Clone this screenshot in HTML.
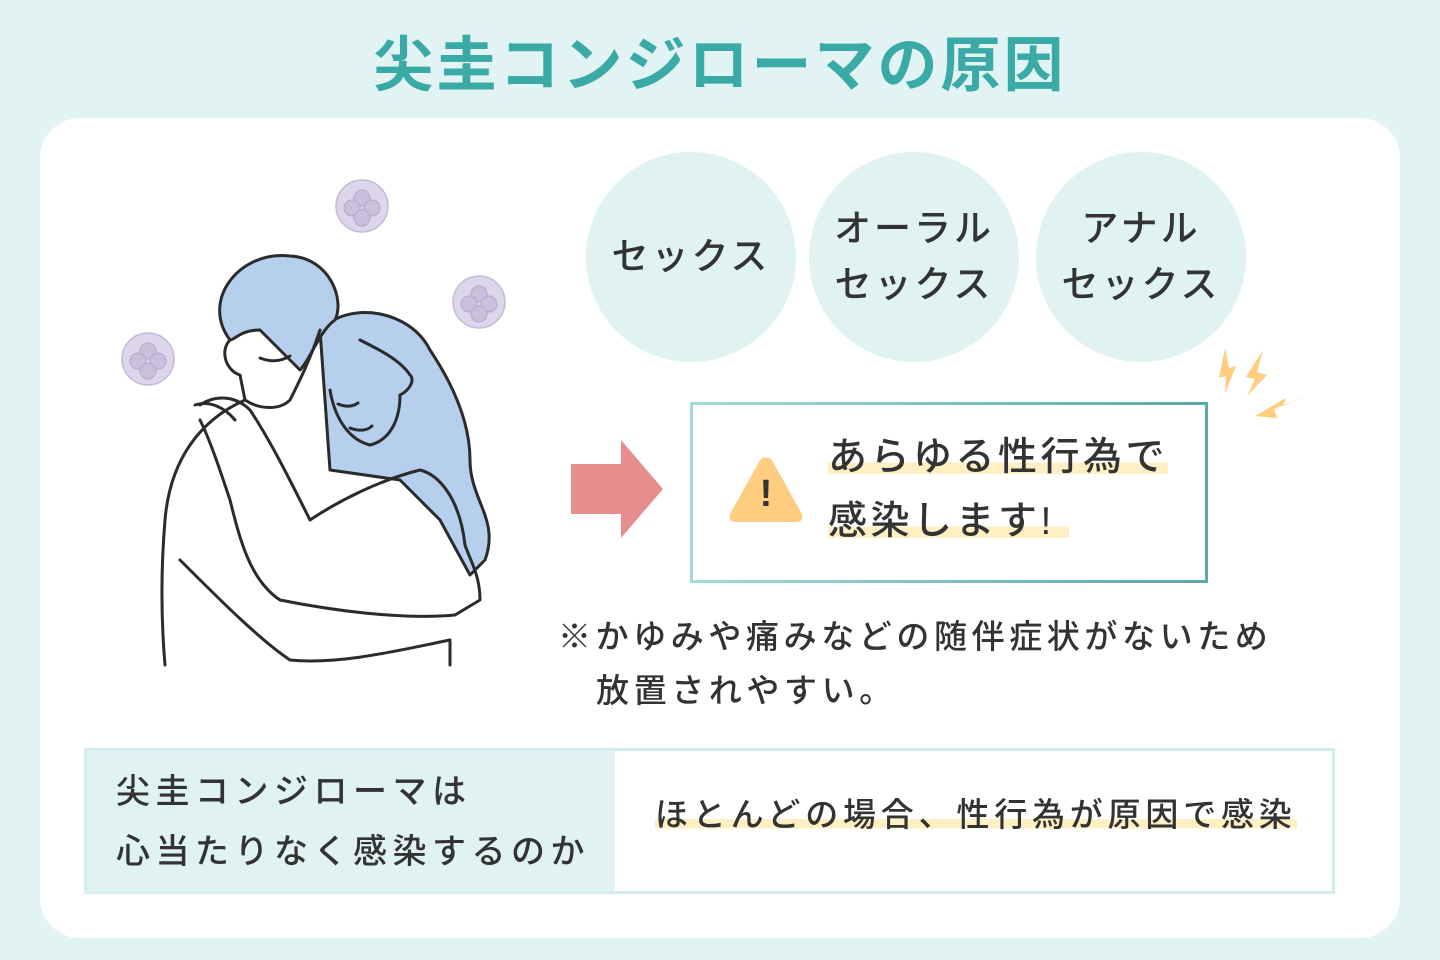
<!DOCTYPE html>
<html><head><meta charset="utf-8"><style>
*{margin:0;padding:0;box-sizing:border-box}
body{width:1440px;height:960px;background:#e2f3f3;position:relative;overflow:hidden;font-family:"Liberation Sans","Noto Sans CJK JP",sans-serif;color:#333;font-weight:500}
.a{position:absolute;white-space:nowrap}
.title{left:0;width:1440px;top:28px;text-align:center;font-size:60px;font-weight:bold;color:#3aaaa6;letter-spacing:3px;line-height:76px}
.card{left:40px;top:118px;width:1360px;height:820px;background:#fff;border-radius:40px}
.c{width:210px;height:210px;border-radius:50%;background:#e0f3f2;display:flex;align-items:center;justify-content:center;text-align:center;font-size:37px;line-height:56px;letter-spacing:3px;top:152px}
.box{left:690px;top:402px;width:518px;height:181px;border:3px solid #7cc3c3;border-image:linear-gradient(90deg,#a2dada,#5ba7a9) 1}
.hl{background:linear-gradient(transparent 62%,#fff0c4 62%,#fff0c4 88%,transparent 88%)}
.t{font-size:39px;letter-spacing:3.5px;line-height:64px}
.note{font-size:33px;line-height:54px;letter-spacing:4.6px}
.tbl{left:84px;top:748px;width:1251px;height:146px;border:3px solid #d3eded;background:#fff}
.lc{position:absolute;left:0;top:0;width:528px;height:140px;background:#e0f3f2}
</style></head><body>
<div class="a title">尖圭コンジローマの原因</div>
<div class="a card"></div>

<svg class="a" style="left:100px;top:170px" width="420" height="510" viewBox="100 170 420 510">
<g fill="#ddd6ea" stroke="#c4bad8" stroke-width="1.5">
<circle cx="362" cy="206" r="26"/><circle cx="479" cy="302" r="26"/><circle cx="148" cy="359" r="26"/>
</g>
<g fill="#c9c0db" stroke="#b3a8cb" stroke-width="1">
<circle cx="362" cy="198" r="8"/><circle cx="352" cy="208" r="8"/><circle cx="372" cy="208" r="8"/><circle cx="362" cy="218" r="8"/>
<circle cx="479" cy="294" r="8"/><circle cx="469" cy="304" r="8"/><circle cx="489" cy="304" r="8"/><circle cx="479" cy="314" r="8"/>
<circle cx="148" cy="351" r="8"/><circle cx="138" cy="361" r="8"/><circle cx="158" cy="361" r="8"/><circle cx="148" cy="371" r="8"/>
</g>
<g stroke="#2b2b2b" stroke-width="3" fill="none" stroke-linecap="round" stroke-linejoin="round">
<path d="M320 330 C350 300 410 310 430 350 C450 380 470 420 470 460 C470 500 500 520 485 560 L470 575 L440 520 C430 510 410 490 400 480 L330 470 Z" fill="#b5cfed"/>
<path d="M230 340 C200 300 240 250 290 256 C330 258 345 300 335 320 C320 330 310 360 300 370 L260 330 C240 330 235 340 230 340Z" fill="#b5cfed"/>
<path d="M230 340 C220 350 225 370 240 375 L245 400 C260 410 280 410 290 400 C300 380 310 360 320 330"/>
<path d="M330 390 C335 420 350 440 370 445 C390 440 400 420 400 395 C410 390 415 380 410 375 C400 360 380 350 360 340"/>
<path d="M200 405 C215 395 235 395 250 410 C270 440 290 480 310 520 C340 500 380 480 420 470 C440 475 460 500 465 545 C470 560 480 575 480 600 L455 615 C400 620 330 610 280 600 C250 580 240 540 230 500 C220 470 210 440 200 420"/>
<path d="M245 400 C200 420 170 460 165 520 C160 580 162 630 165 665"/>
<path d="M180 560 C220 600 260 640 290 660 C340 665 400 650 450 640 L450 665"/>
<path d="M195 405 C210 400 225 408 235 420"/>
<path d="M260 358 C270 362 280 362 290 356 M338 404 C345 407 352 407 358 403 M350 428 C360 432 368 430 372 426"/>
</g>
</svg>

<div class="a c" style="left:586px">セックス</div>
<div class="a c" style="left:809px">オーラル<br>セックス</div>
<div class="a c" style="left:1036px">アナル<br>セックス</div>

<svg class="a" style="left:1215px;top:348px" width="95" height="75">
<g fill="#ffcd80"><path d="M10 0 L14 20 L21 18 L10 46 L11 28 L4 30Z"/><path d="M48 2 L42 24 L52 27 L32 48 L40 31 L31 29Z"/><path d="M90 48 L68 58 L71 50 L40 68 L62 70 L59 61Z"/></g>
</svg>

<svg class="a" style="left:571px;top:440px" width="92" height="100"><path d="M0 24 H50 V0 L92 49 L50 98 V74 H0Z" fill="#e68d8d"/></svg>

<div class="a box"></div>
<svg class="a" style="left:726px;top:454px" width="80" height="70"><path d="M40 4 Q44 2 47 8 L76 60 Q78 68 70 68 H10 Q2 68 4 60 L33 8 Q36 2 40 4Z" fill="#ffcd80"/><text x="40" y="52" font-size="38" font-weight="bold" text-anchor="middle" fill="#333" font-family="Liberation Sans">!</text></svg>
<div class="a t" style="left:828px;top:426px"><span class="hl">あらゆる性行為で</span></div>
<div class="a t" style="left:828px;top:490px"><span class="hl">感染します!&nbsp;</span></div>

<div class="a note" style="left:558px;top:610px">※かゆみや痛みなどの随伴症状がないため</div>
<div class="a note" style="left:596px;top:664px">放置されやすい。</div>

<div class="a tbl"><div class="lc"></div></div>
<div class="a" style="left:116px;top:762px;font-size:34px;line-height:60px;letter-spacing:5.5px">尖圭コンジローマは<br>心当たりなく感染するのか</div>
<div class="a" style="left:655px;top:790px;font-size:33px;line-height:50px;letter-spacing:4.8px"><span class="hl">ほとんどの場合、性行為が原因で感染</span></div>
</body></html>
